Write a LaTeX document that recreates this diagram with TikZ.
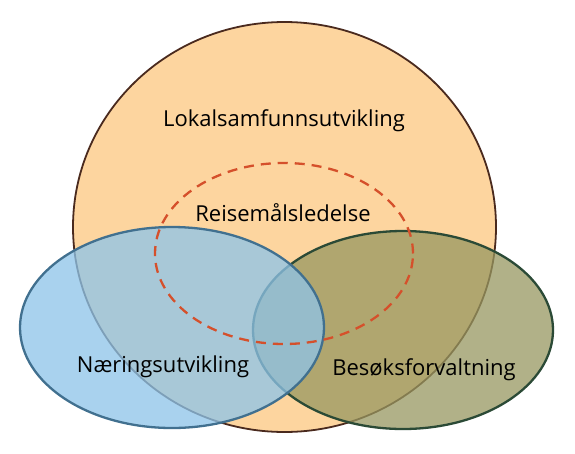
\documentclass[tikz,border=0pt]{standalone}
\usepackage{fontspec}
\setmainfont{Open Sans}
\usepackage{xcolor}
\usepackage{tikz}
\usetikzlibrary{shapes.geometric}
\definecolor{lorange}{HTML}{FDD59F}
\definecolor{lbrown}{HTML}{4A2A1E}
\definecolor{nblue}{HTML}{8EC4E9}
\definecolor{nbluedark}{HTML}{41708F}
\definecolor{bolive}{HTML}{979760}
\definecolor{bgreen}{HTML}{2B4A36}
\definecolor{rred}{HTML}{D5502B}

\begin{document}
\begin{tikzpicture}[x=1pt,y=-1pt,
    every node/.style={font=\fontsize{22}{26}\selectfont},
    area/.style={ellipse,inner sep=0pt,outer sep=0pt}]
  \useasboundingbox (0,0) rectangle (575,453);
  \node[area,draw=lbrown,line width=1.8pt,fill=lorange,
        minimum width=423pt,minimum height=410pt] (lokal) at (284.5,227) {};
  \node[area,draw=bgreen,line width=2.3pt,fill=bolive,fill opacity=0.75,
        draw opacity=1,minimum width=300pt,minimum height=198pt] (besok) at (403,330) {};
  \node[area,draw=nbluedark,line width=2.3pt,fill=nblue,fill opacity=0.76,
        minimum width=304pt,minimum height=201pt] (naring) at (172,327.5) {};
  \node[area,draw=rred,line width=2.3pt,dash pattern=on 10pt off 7pt,
        minimum width=258pt,minimum height=181pt] (reise) at (284,253.5) {};
  % tekster
  \node (lokaltxt) at (284,121) {Lokalsamfunnsutvikling};
  \node (reisetxt) at (283,213) {Reisemålsledelse};
  \node (naringtxt) at (163,367) {Næringsutvikling};
  \node (besoktxt) at (424,370) {Besøksforvaltning};
\end{tikzpicture}
\end{document}
